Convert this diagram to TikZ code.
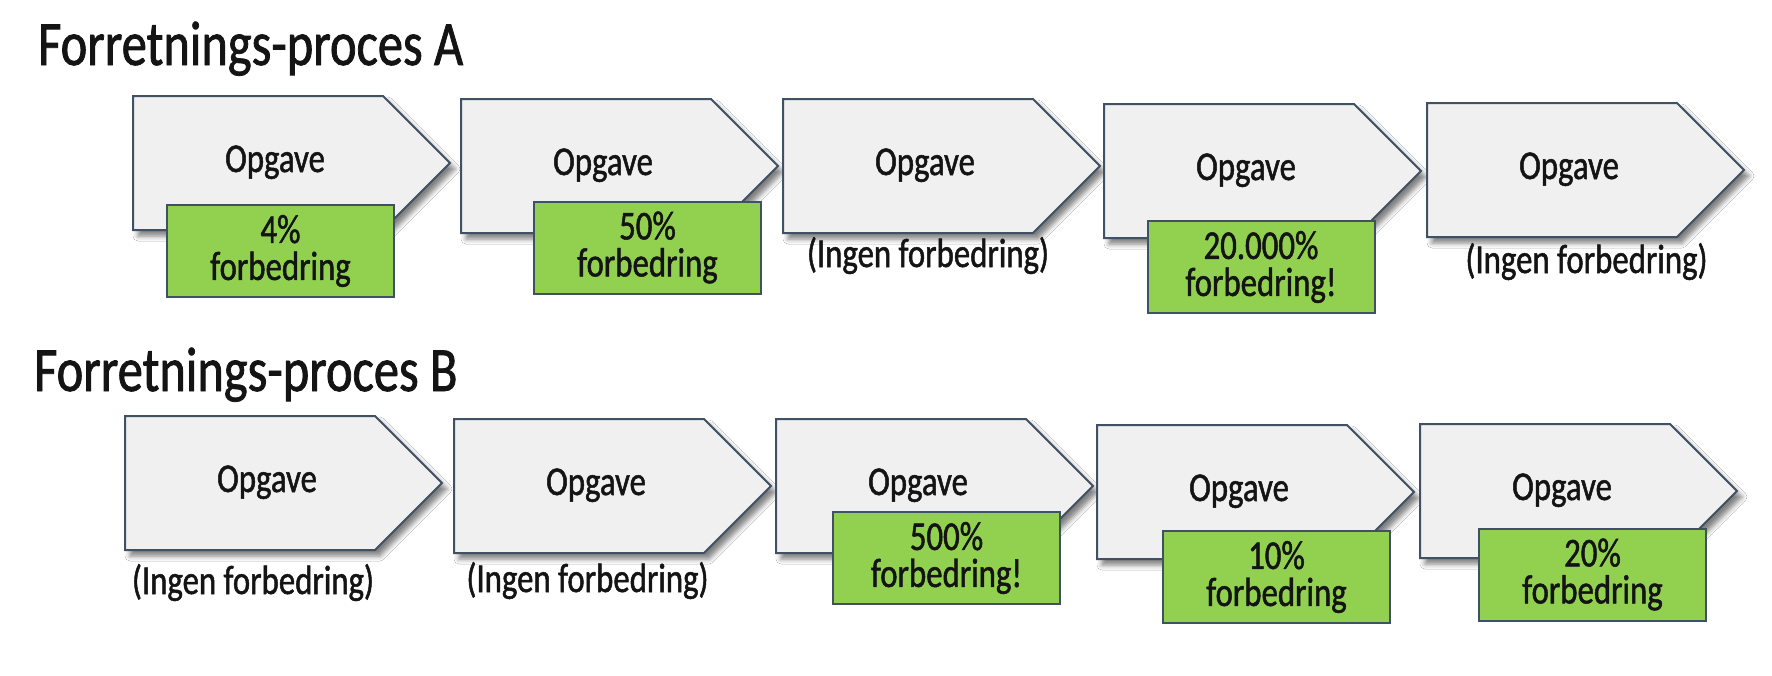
\documentclass[tikz,border=0pt]{standalone}
\usepackage{fontspec}
\setmainfont{Carlito}[FakeStretch=0.8,FakeBold=1.2]
\usetikzlibrary{shadows.blur}
\definecolor{edge}{HTML}{3F5162}
\definecolor{chevfill}{HTML}{F0F0F0}
\definecolor{grn}{HTML}{92D050}
\definecolor{ink}{HTML}{141414}
\newcommand{\bodyfnt}{\fontsize{41}{37}\selectfont}
\newcommand{\ttlfnt}{\fontsize{63}{70}\selectfont}
\tikzset{
 chev/.style={draw=edge, line width=2pt, fill=chevfill, line join=miter,
   blur shadow={shadow xshift=5pt, shadow yshift=-6pt, shadow opacity=50, shadow blur radius=5pt}},
 gbox/.style={draw=edge, line width=2pt, fill=grn, minimum width=227pt, minimum height=92pt,
   inner sep=0pt, align=center, font=\bodyfnt, text=ink},
 opg/.style={anchor=base, font=\bodyfnt, text=ink, inner sep=0pt},
 ttl/.style={anchor=base west, font=\ttlfnt, text=ink, inner sep=0pt},
 lbl/.style={anchor=base, font=\bodyfnt, text=ink, inner sep=0pt},
}
\newcommand{\chevron}[3]{%
 \draw[chev] (#2,#3) -- ++(250,0) -- ++(67,67) -- ++(-67,67) -- ++(-250,0) -- cycle;
 \node[opg] (#1) at (#2+142,#3+76) {Opgave};
}
\begin{document}
\begin{tikzpicture}[x=1pt,y=-1pt]
\useasboundingbox[fill=white] (0,0) rectangle (1772,675);
% titles
\node[ttl] (titleA) at (38,65) {Forretnings-proces A};
\node[ttl] (titleB) at (34,391) {Forretnings-proces B};
% row A
\chevron{a1}{133}{96}
\chevron{a2}{461}{99}
\chevron{a3}{783}{99}
\chevron{a4}{1104}{104}
\chevron{a5}{1427}{103}
% row B
\chevron{b1}{125}{416}
\chevron{b2}{454}{419}
\chevron{b3}{776}{419}
\chevron{b4}{1097}{425}
\chevron{b5}{1420}{424}
% green boxes
\node[gbox] (ga1) at (280.5,251) {4\%\\forbedring};
\node[gbox] (ga2) at (647.5,247.5) {50\%\\forbedring};
\node[gbox] (ga4) at (1261,267) {20.000\%\\forbedring!};
\node[gbox] (gb3) at (946.5,558) {500\%\\forbedring!};
\node[gbox] (gb4) at (1276.5,577) {10\%\\forbedring};
\node[gbox] (gb5) at (1592.5,574.5) {20\%\\forbedring};
% plain labels
\node[lbl] (la3) at (928,267) {(Ingen forbedring)};
\node[lbl] (la5) at (1586.5,273) {(Ingen forbedring)};
\node[lbl] (lb1) at (253,594) {(Ingen forbedring)};
\node[lbl] (lb2) at (587.5,592) {(Ingen forbedring)};
\end{tikzpicture}
\end{document}
